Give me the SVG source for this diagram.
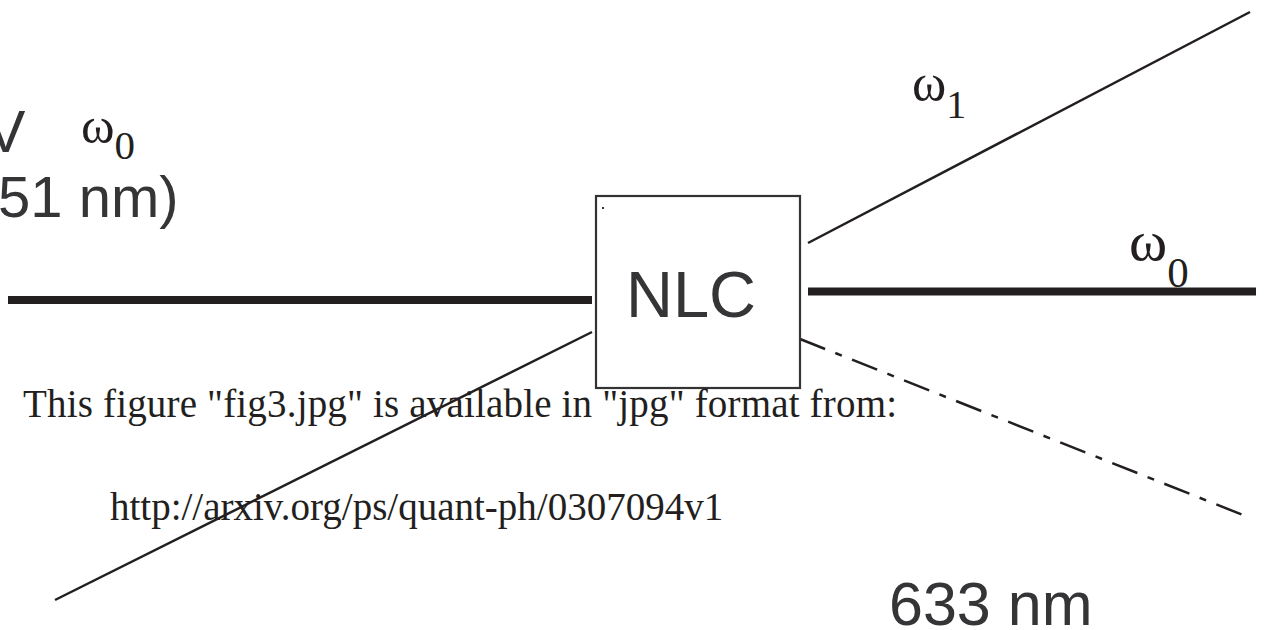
<svg xmlns="http://www.w3.org/2000/svg" width="1265" height="630" viewBox="0 0 1265 630">
<style>
.sans{font-family:"Liberation Sans",Arial,sans-serif;fill:#353537}
.serif{font-family:"Liberation Serif","Times New Roman",serif;fill:#231f20}
.thick{stroke:#231f20;stroke-width:8;fill:none}
.thin{stroke:#231f20;stroke-width:2.5;fill:none}
.dashdot{stroke:#231f20;stroke-width:2.5;fill:none;stroke-dasharray:27 11 7 11}
</style>
<rect width="1265" height="630" fill="#ffffff"/>
<g id="connectors">
<line class="thick" x1="8" y1="300" x2="592" y2="300"/>
<line class="thick" x1="808" y1="291.5" x2="1256" y2="291.5"/>
<line class="thin" x1="808" y1="243" x2="1250" y2="12"/>
<line class="thin" x1="55" y1="600" x2="592" y2="332"/>
<line class="dashdot" x1="800" y1="339" x2="1248" y2="517"/>
</g>
<g id="nlc">
<rect x="596" y="196" width="204" height="192" fill="none" stroke="#333333" stroke-width="2.2"/>
<rect x="602" y="207" width="2" height="2" fill="#333333"/>
<text class="sans" x="691" y="317" font-size="65" text-anchor="middle">NLC</text>
</g>
<g id="input-label">
<text class="sans" x="-14" y="152" font-size="59">V</text>
<text class="sans" x="-2" y="217" font-size="58">51 nm)</text>
<text class="serif" x="81" y="143" font-size="51">ω<tspan font-size="41" y="159">0</tspan></text>
</g>
<g id="omega1-label">
<text class="serif" x="912" y="100" font-size="52">ω<tspan font-size="40" y="118">1</tspan></text>
</g>
<g id="omega0-label">
<text class="serif" x="1129" y="260" font-size="58">ω<tspan font-size="43" y="287">0</tspan></text>
</g>
<g id="idler-label">
<text class="sans" x="889" y="625" font-size="61">633 nm</text>
</g>
<g id="notice">
<text class="serif" x="23" y="417" font-size="39" textLength="874" lengthAdjust="spacing">This figure "fig3.jpg" is available in "jpg"  format from:</text>
<text class="serif" x="110" y="520" font-size="39">http://arxiv.org/ps/quant-ph/0307094v1</text>
</g>
</svg>
